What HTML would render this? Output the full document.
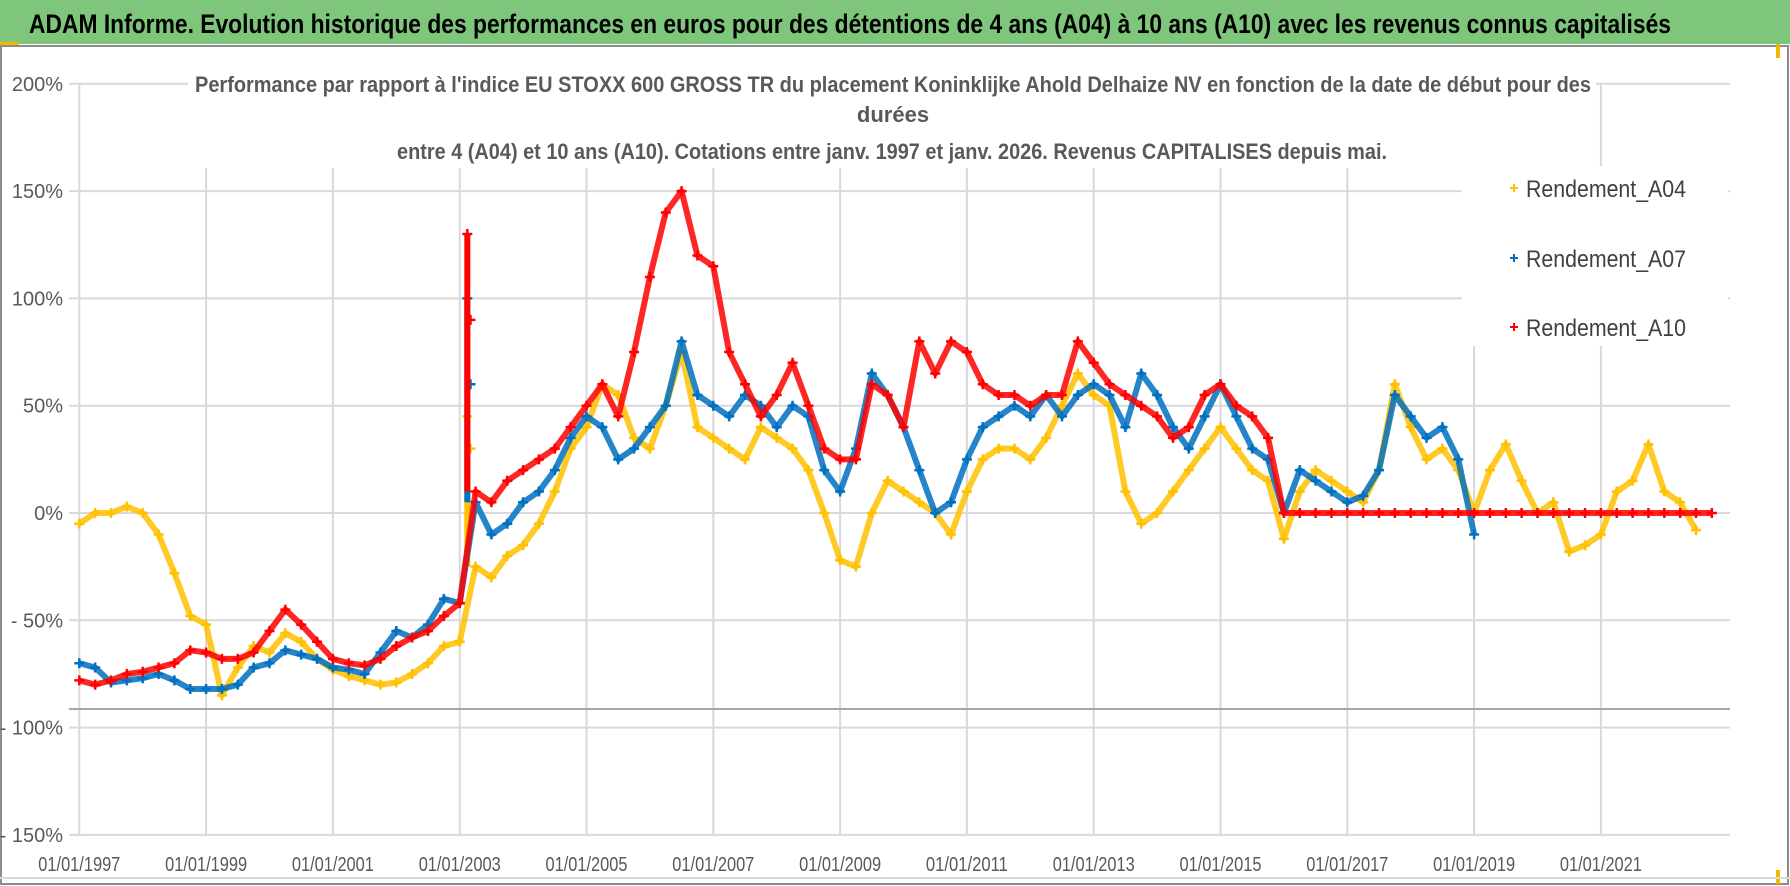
<!DOCTYPE html>
<html><head><meta charset="utf-8"><style>
html,body{margin:0;padding:0;background:#fff;}
svg{display:block;font-family:"Liberation Sans",sans-serif;}
</style></head><body>
<svg id="chart" width="1790" height="886" viewBox="0 0 1790 886" xmlns="http://www.w3.org/2000/svg">
<rect x="0" y="0" width="1790" height="886" fill="#fff"/>
<rect x="0" y="0" width="1790" height="44" fill="#7dc67b"/>
<text x="29" y="33" font-size="27" font-weight="bold" fill="#000" textLength="1642" lengthAdjust="spacingAndGlyphs">ADAM Informe. Evolution historique des performances en euros pour des détentions de 4 ans (A04) à 10 ans (A10) avec les revenus connus capitalisés</text>
<rect x="0" y="42" width="19" height="3" fill="#f2b800"/>
<line x1="0" y1="46" x2="1790" y2="46" stroke="#d9d9d9" stroke-width="2"/>
<rect x="1" y="46" width="1787" height="838" fill="none" stroke="#8c8c8c" stroke-width="2"/>
<rect x="1776" y="44" width="4" height="14" fill="#f2b800"/>
<rect x="1776" y="870" width="4" height="14" fill="#f2b800"/>
<line x1="0" y1="878" x2="1790" y2="878" stroke="#d9d9d9" stroke-width="2"/>
<g id="grid"></g>
<g id="yaxis"></g>
<g id="xaxis"></g>
<g id="plot"></g>
<rect x="188" y="66" width="1408" height="102" fill="#fff"/>
<g font-weight="bold" fill="#595959" font-size="22">
<text x="195" y="92" textLength="1396" lengthAdjust="spacingAndGlyphs">Performance par rapport à l'indice EU STOXX 600 GROSS TR  du placement Koninklijke Ahold Delhaize NV en fonction de la date de début pour des</text>
<text x="893" y="122" text-anchor="middle">durées</text>
<text x="397" y="159" textLength="990" lengthAdjust="spacingAndGlyphs">entre 4 (A04) et 10 ans (A10).  Cotations entre janv. 1997 et janv. 2026. Revenus CAPITALISES depuis mai.</text>
</g>
<rect x="1462" y="166" width="266" height="180" fill="#fff"/>
<g id="legend"></g>
</svg>
<script>
const dates = [];
for (let i = 0; i <= 103; i++) dates.push(1997 + i * 0.25);
const a04 = [-5,0,0,3,0,-10,-28,-48,-52,-85,-72,-62,-65,-56,-60,-68,-73,-76,-78,-80,-79,-75,-70,-62,-60,-25,-30,-20,-15,-5,10,30,40,60,55,35,30,50,75,40,35,30,25,40,35,30,20,0,-22,-25,0,15,10,5,0,-10,10,25,30,30,25,35,50,65,55,50,10,-5,0,10,20,30,40,30,20,15,-12,10,20,15,10,5,20,60,40,25,30,20,0,20,32,15,0,5,-18,-15,-10,10,15,32,10,5,-8,null];
const a07 = [-70,-72,-79,-78,-77,-75,-78,-82,-82,-82,-80,-72,-70,-64,-66,-68,-72,-73,-75,-65,-55,-58,-52,-40,-42,5,-10,-5,5,10,20,35,45,40,25,30,40,50,80,55,50,45,55,50,40,50,45,20,10,30,65,55,40,20,0,5,25,40,45,50,45,55,45,55,60,55,40,65,55,40,30,45,60,45,30,25,0,20,15,10,5,8,20,55,45,35,40,25,-10,null,null,null,null,null,null,null,null,null,null,null,null,null,null,null,null,null];
const a10 = [-78,-80,-78,-75,-74,-72,-70,-64,-65,-68,-68,-65,-55,-45,-52,-60,-68,-70,-71,-68,-62,-58,-55,-48,-42,10,5,15,20,25,30,40,50,60,45,75,110,140,150,120,115,75,60,45,55,70,50,30,25,25,60,55,40,80,65,80,75,60,55,55,50,55,55,80,70,60,55,50,45,35,40,55,60,50,45,35,0,0,0,0,0,0,0,0,0,0,0,0,0,0,0,0,0,0,0,0,0,0,0,0,0,0,0,0];
const spikeDates = [2003.12, 2003.17];
const a04Spike = [45, 30];
const a07Spike = [100, 60];
const a10Spike = [130, 90];
const yTicks = [200,150,100,50,0,-50,-100,-150];
const yTickLabels = ["200%","150%","100%","50%","0%","- 50%","- 100%","- 150%"];
const xTickYears = [1997,1999,2001,2003,2005,2007,2009,2011,2013,2015,2017,2019,2021];
const xTickLabels = ["01/01/1997","01/01/1999","01/01/2001","01/01/2003","01/01/2005","01/01/2007","01/01/2009","01/01/2011","01/01/2013","01/01/2015","01/01/2017","01/01/2019","01/01/2021"];
const seriesNames = ["Rendement_A04","Rendement_A07","Rendement_A10"];

const NS = "http://www.w3.org/2000/svg";
const X0 = 79.3, PXY = 63.4, PL = 69, PR = 1730;
function xs(d){ return X0 + (d - 1997) * PXY; }
function ys(v){ return 513 - v * 107.3 / 50; }
function mk(tag, attrs, parent){ const e = document.createElementNS(NS, tag); for (const k in attrs) e.setAttribute(k, attrs[k]); parent.appendChild(e); return e; }

const grid = document.getElementById('grid');
yTicks.forEach(v => {
  const l = mk('line', {x1: PL, x2: PR, y1: ys(v), y2: ys(v), stroke: '#d9d9d9', 'stroke-width': 2}, grid);
  
  
});
xTickYears.forEach(yr => {
  const l = mk('line', {x1: xs(yr), x2: xs(yr), y1: ys(200), y2: ys(-150), stroke: '#d9d9d9', 'stroke-width': 2}, grid);
  
  
});
const ref = mk('line', {x1: PL, x2: PR, y1: 709, y2: 709, stroke: '#a6a6a6', 'stroke-width': 2}, grid);



const yax = document.getElementById('yaxis');
yTicks.forEach((v, i) => {
  const t = mk('text', {x: 63, y: ys(v) + 7, 'text-anchor': 'end', 'font-size': 20, fill: '#595959'}, yax);
  t.textContent = yTickLabels[i];
  
  
});
const xax = document.getElementById('xaxis');
xTickYears.forEach((yr, i) => {
  const t = mk('text', {x: xs(yr), y: 871, 'text-anchor': 'middle', 'font-size': 20, fill: '#595959', textLength: 82, lengthAdjust: 'spacingAndGlyphs'}, xax);
  t.textContent = xTickLabels[i];
  
  
});

const plot = document.getElementById('plot');
function drawSeries(vals, spikes, color, name){
  const g = mk('g', {}, plot);
  
  
  let pts = [];
  const flush = () => { if (pts.length > 1) mk('polyline', {points: pts.join(' '), fill: 'none', stroke: color, 'stroke-width': 6, 'stroke-linejoin': 'round', 'stroke-opacity': 0.85}, g); pts = []; };
  vals.forEach((v, i) => {
    if (v === null) { flush(); return; }
    pts.push(xs(dates[i]).toFixed(1) + ',' + ys(v).toFixed(1));
  });
  flush();
  const all = [];
  vals.forEach((v, i) => { if (v !== null) all.push([dates[i], v]); });
  spikes.forEach((v, i) => all.push([spikeDates[i], v]));
  all.forEach(p => {
    const x = xs(p[0]), y = ys(p[1]);
    const m = mk('path', {d: `M${x-5},${y}H${x+5}M${x},${y-5}V${y+5}`, stroke: color, 'stroke-width': 2.5}, g);
    
    
  });
  const sx = xs(spikeDates[0]);
  mk('line', {x1: sx, x2: sx, y1: ys(spikes[0]), y2: ys(vals[dates.indexOf(2003.25)]), stroke: color, 'stroke-width': 6}, g);
}
drawSeries(a04, a04Spike, '#ffc000', 'series-a04');
drawSeries(a07, a07Spike, '#0070c0', 'series-a07');
drawSeries(a10, a10Spike, '#ff0000', 'series-a10');

const legend = document.getElementById('legend');
const legColors = ['#ffc000', '#0070c0', '#ff0000'];
const legY = [188, 258, 327];
seriesNames.forEach((n, i) => {
  const g = mk('g', {}, legend);
  
  
  mk('path', {d: `M1510,${legY[i]}h8M1514,${legY[i]-4}v8`, stroke: legColors[i], 'stroke-width': 2}, g);
  const t = mk('text', {x: 1526, y: legY[i] + 9, 'font-size': 24, fill: '#404040', textLength: 160, lengthAdjust: 'spacingAndGlyphs'}, g);
  t.textContent = n;
});
</script>
</body></html>
